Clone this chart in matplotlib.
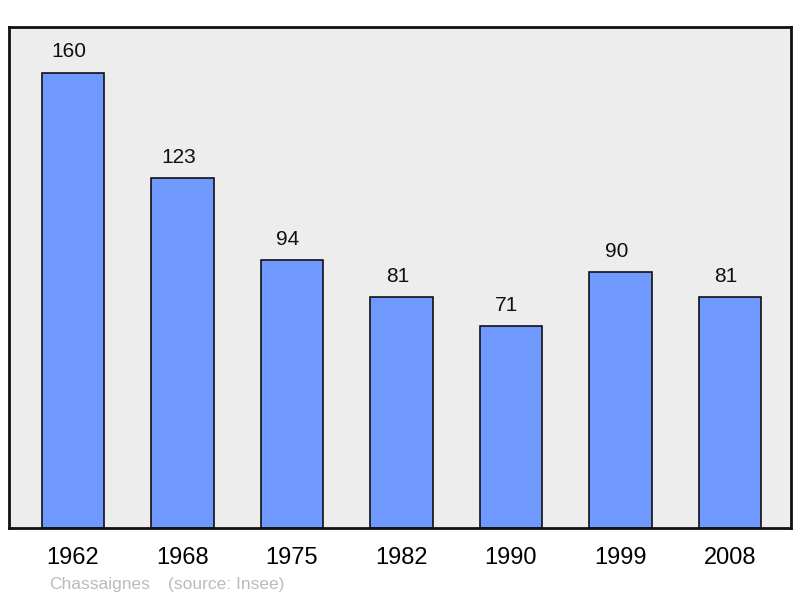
import matplotlib
matplotlib.use("Agg")
import matplotlib.pyplot as plt

years = ["1962", "1968", "1975", "1982", "1990", "1999", "2008"]
population = [160, 123, 94, 81, 71, 90, 81]

plt.rcParams['font.family'] = ['Liberation Sans', 'DejaVu Sans']

fig = plt.figure(figsize=(8, 5.98), dpi=100)
ax = fig.add_axes([9/800, 70/598, 782/800, 501/598])
ax.set_facecolor('#ededed')
x = list(range(len(years)))
bars = ax.bar(x, population, width=0.57, color='#7099ff', edgecolor='#111111', linewidth=1.2, zorder=2)
for xi, v in zip(x, population):
    ax.annotate(str(v), (xi, v), xytext=(-3, 8), textcoords='offset points',
                ha='center', va='bottom', fontsize=15, color='#111111')
ax.set_xlim(-0.584, 6.557)
ax.set_ylim(0, 176)
ax.set_xticks(x)
ax.set_xticklabels(years, fontsize=17)
ax.tick_params(axis='x', length=0, pad=14)
ax.set_yticks([])
for s in ax.spines.values():
    s.set_linewidth(2)
    s.set_color('#111111')
fig.text(49/800, 1 - 584/598, "Chassaignes", fontsize=12.5, color='#bbbbbb', va='center')
fig.text(168/800, 1 - 584/598, "(source: Insee)", fontsize=12.5, color='#bbbbbb', va='center')
fig.savefig("out.png", dpi=100)
